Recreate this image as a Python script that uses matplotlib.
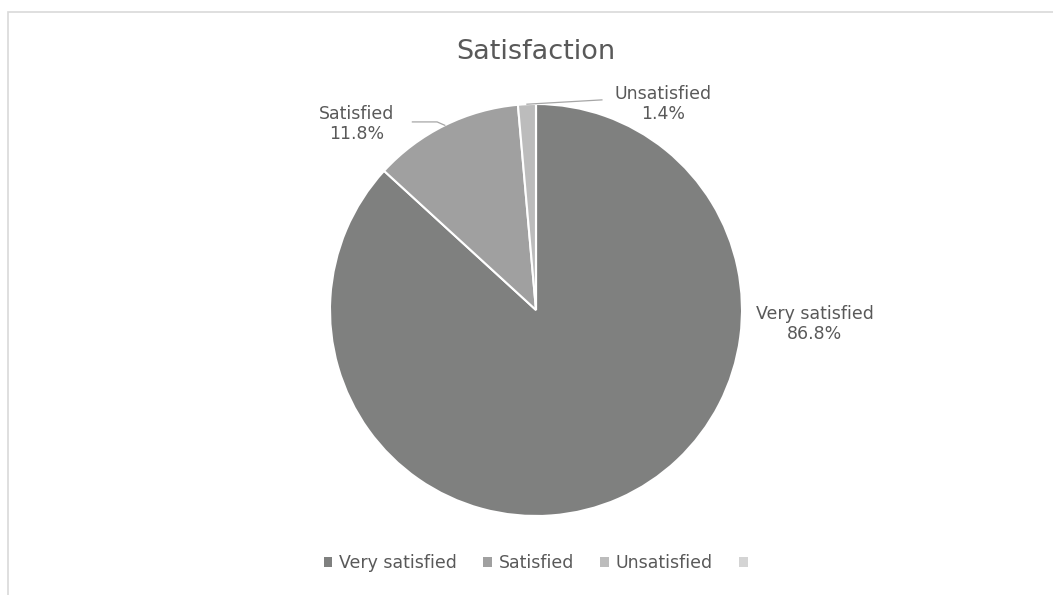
import matplotlib
matplotlib.use("Agg")
import matplotlib.pyplot as plt
from matplotlib.patches import Rectangle
import numpy as np

categories = ["Very satisfied", "Satisfied", "Unsatisfied", ""]
values = [86.8, 11.8, 1.4, 0.0]
colors = ["#7f807f", "#a0a0a0", "#bcbcbc", "#d4d4d4"]
title = "Satisfaction"

plt.rcParams['font.family'] = ['DejaVu Sans']
TXT = "#595959"

W, H = 1053, 595
fig = plt.figure(figsize=(W / 100, H / 100), dpi=100)

# chart frame (partially cropped)
fig.patches.append(Rectangle((7.5 / W, -0.1), 1.2, 1.1 - 12.5 / H, transform=fig.transFigure,
                             fill=False, edgecolor="#d9d9d9", linewidth=1.2))

cx, cy, r = 536, 310, 206
ax = fig.add_axes([(cx - r) / W, 1 - (cy + r) / H, 2 * r / W, 2 * r / H])
wedges, _ = ax.pie(values, colors=colors, startangle=90, counterclock=False,
                   radius=1, wedgeprops=dict(edgecolor="white", linewidth=1.5))
ax.set_xlim(-1, 1)
ax.set_ylim(-1, 1)
ax.set_aspect("equal")
ax.axis("off")

fig.text(cx / W, 1 - 52 / H, title, ha="center", va="center", fontsize=19.5, color=TXT)

# data labels
label_pos = {0: (1.354, -0.068), 1: (-0.869, 0.903), 2: (0.617, 1.0)}
for i, (w, cat, v) in enumerate(zip(wedges, categories, values)):
    if i not in label_pos:
        continue
    tx, ty = label_pos[i]
    ax.text(tx, ty, f"{cat}\n{v:.1f}%", ha="center", va="center", fontsize=12.5,
            color=TXT, linespacing=1.2, clip_on=False)

# leader lines
def mid(i):
    a = np.deg2rad((wedges[i].theta1 + wedges[i].theta2) / 2)
    return np.cos(a), np.sin(a)

mx, my = mid(1)
ax.plot([-0.60, -0.48, mx], [0.913, 0.913, my], color="#a6a6a6", lw=0.9, clip_on=False)
mx, my = mid(2)
ax.plot([mx, 0.32], [my, 1.02], color="#a6a6a6", lw=0.9, clip_on=False)

leg = fig.legend(wedges, categories, loc="center", bbox_to_anchor=(0.512, 1 - 563 / H),
                 ncol=4, frameon=False, fontsize=12.5, handlelength=0.5, handleheight=0.5,
                 handletextpad=0.4, columnspacing=1.5, labelcolor=TXT)
for h in leg.legend_handles:
    h.set_edgecolor("none")

fig.savefig("out.png", dpi=100, facecolor="white")
